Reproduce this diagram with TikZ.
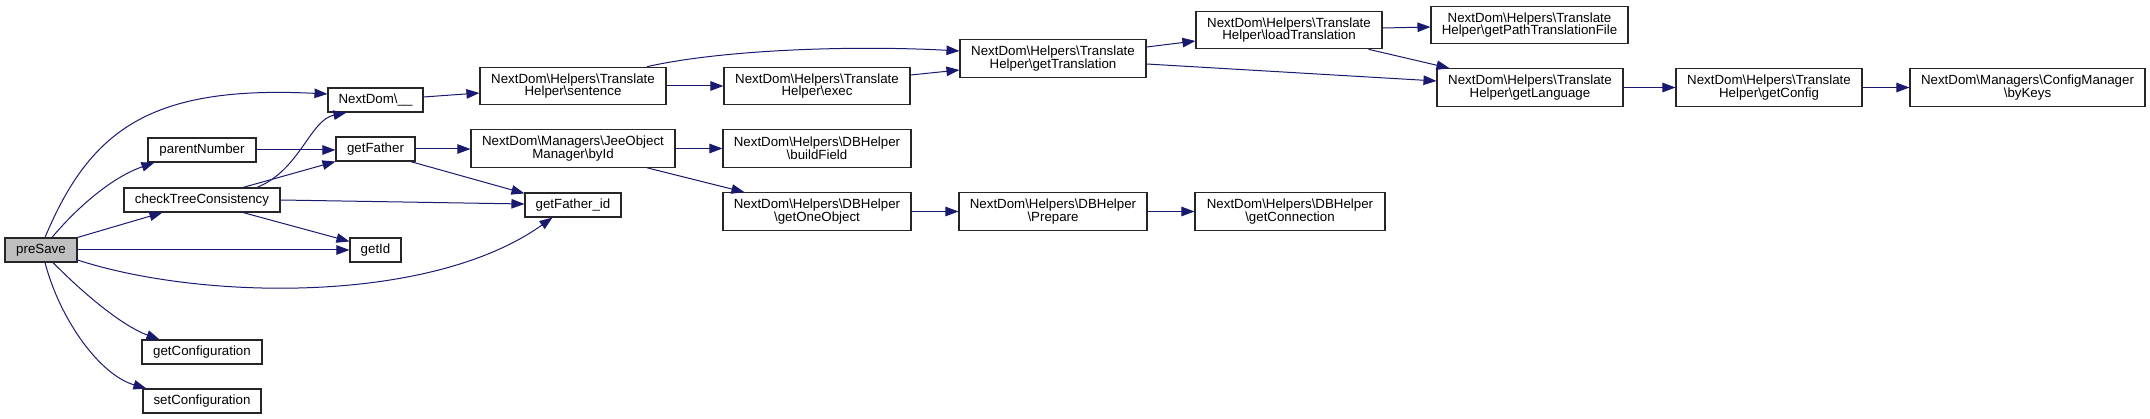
\documentclass[tikz,border=0pt]{standalone}
\usepackage{fontspec}
\setmainfont{Liberation Sans}
\usetikzlibrary{arrows.meta,calc}
\definecolor{midnightblue}{RGB}{25,25,112}
\definecolor{rootgray}{RGB}{191,191,191}
\newcommand{\bs}{\textbackslash}
\begin{document}
\begin{tikzpicture}[x=1pt,y=-1pt,
  fn/.style={draw=black!85, line width=1.1pt, fill=white, inner sep=0pt, align=center,
    font=\fontsize{13.3}{12.7}\selectfont},
  one/.style={fn, minimum height=24pt},
  two/.style={fn, minimum height=37.5pt},
  root/.style={one, fill=rootgray},
  call/.style={draw=midnightblue, line width=1pt, -{Triangle[length=13pt,width=9.5pt,fill=midnightblue]}}]
\useasboundingbox (0,0) rectangle (2150,419);
% nodes
\node[root, minimum width=72pt] (preSave) at (41,250) {preSave};
\node[one, minimum width=95pt] (nd) at (375.5,100) {NextDom\bs\_\_};
\node[one, minimum width=108pt] (parentNumber) at (202,150) {parentNumber};
\node[one, minimum width=79pt] (getFather) at (375.5,149) {getFather};
\node[one, minimum width=156pt] (check) at (202,200) {checkTreeConsistency};
\node[one, minimum width=51pt] (getId) at (375.5,250) {getId};
\node[one, minimum width=120pt] (getConfiguration) at (202,352) {getConfiguration};
\node[one, minimum width=118pt] (setConfiguration) at (202,401) {setConfiguration};
\node[one, minimum width=96pt] (getFatherId) at (573,205) {getFather\_id};
\node[two, minimum width=186pt] (sentence) at (573,86) {NextDom\bs Helpers\bs Translate\\Helper\bs sentence};
\node[two, minimum width=204pt] (byId) at (573,148.5) {NextDom\bs Managers\bs JeeObject\\Manager\bs byId};
\node[two, minimum width=186pt] (exec) at (817,86) {NextDom\bs Helpers\bs Translate\\Helper\bs exec};
\node[two, minimum width=188pt] (buildField) at (817,148.5) {NextDom\bs Helpers\bs DBHelper\\\bs buildField};
\node[two, minimum width=188pt] (getOneObject) at (817,211.5) {NextDom\bs Helpers\bs DBHelper\\\bs getOneObject};
\node[two, minimum width=186pt] (getTranslation) at (1053,58.5) {NextDom\bs Helpers\bs Translate\\Helper\bs getTranslation};
\node[two, minimum width=188pt] (prepare) at (1053,211.5) {NextDom\bs Helpers\bs DBHelper\\\bs Prepare};
\node[two, minimum width=186pt] (loadTranslation) at (1289,30) {NextDom\bs Helpers\bs Translate\\Helper\bs loadTranslation};
\node[two, minimum width=190pt] (getConnection) at (1290,211.5) {NextDom\bs Helpers\bs DBHelper\\\bs getConnection};
\node[two, minimum width=197pt] (getPath) at (1529.5,25) {NextDom\bs Helpers\bs Translate\\Helper\bs getPathTranslationFile};
\node[two, minimum width=186pt] (getLanguage) at (1530,87.5) {NextDom\bs Helpers\bs Translate\\Helper\bs getLanguage};
\node[two, minimum width=186pt] (getConfig) at (1769,87.5) {NextDom\bs Helpers\bs Translate\\Helper\bs getConfig};
\node[two, minimum width=235pt] (byKeys) at (2027.5,87.5) {NextDom\bs Managers\bs ConfigManager\\\bs byKeys};
% edges from preSave
\draw[call] ($(preSave.north)+(4,0)$) .. controls (90,130) and (150,85) .. ($(nd.west)+(0,-6)$);
\draw[call] ($(preSave.north)+(11,0)$) .. controls (75,210) and (110,178) .. ($(parentNumber.south west)+(7,0)$);
\draw[call] (preSave.north east) -- ($(check.south west)+(39,0)$);
\draw[call] (preSave.east) -- (preSave.east -| getId.west);
\draw[call] ($(preSave.east)+(0,10)$) .. controls (200,300) and (430,305) .. ($(getFatherId.south west)+(28,0)$);
\draw[call] ($(preSave.south)+(12,0)$) .. controls (80,290) and (120,325) .. ($(getConfiguration.north west)+(18,0)$);
\draw[call] ($(preSave.south)+(4,0)$) .. controls (60,320) and (100,375) .. ($(setConfiguration.north west)+(4,0)$);
% second column
\draw[call] (parentNumber.east) -- (parentNumber.east -| getFather.west);
\draw[call] ($(check.north)+(41,0)$) -- (getFather.south west);
\draw[call] ($(check.north)+(55,0)$) .. controls (300,170) and (310,120) .. ($(nd.south west)+(19,0)$);
\draw[call] (check.east) -- ($(getFatherId.west)+(0,-1)$);
\draw[call] ($(check.south)+(41,0)$) -- ($(getId.north west)+(0,4)$);
\draw[call] (getFather.east) -- (getFather.east -| byId.west);
\draw[call] ($(getFather.south east)+(-5,0)$) -- ($(getFatherId.north west)+(0,1)$);
\draw[call] ($(nd.east)+(0,-3)$) -- ($(sentence.west)+(0,7)$);
% translate helpers
\draw[call] (sentence.east) -- (sentence.east -| exec.west);
\draw[call] ($(sentence.north)+(74,0)$) .. controls (720,50) and (850,45) .. ($(getTranslation.west)+(0,-7.5)$);
\draw[call] ($(exec.east)+(0,-11)$) -- ($(getTranslation.west)+(0,11.5)$);
\draw[call] ($(getTranslation.east)+(0,-11.5)$) -- ($(loadTranslation.west)+(0,11)$);
\draw[call] ($(getTranslation.east)+(0,5.5)$) -- ($(getLanguage.west)+(0,-6.5)$);
\draw[call] ($(loadTranslation.east)+(0,-2)$) -- ($(getPath.west)+(0,2)$);
\draw[call] ($(loadTranslation.south east)+(-14,0)$) -- ($(getLanguage.north west)+(13,0)$);
\draw[call] (getLanguage.east) -- (getLanguage.east -| getConfig.west);
\draw[call] (getConfig.east) -- (getConfig.east -| byKeys.west);
% DB helpers
\draw[call] (byId.east) -- (byId.east -| buildField.west);
\draw[call] ($(byId.south)+(74,0)$) -- ($(getOneObject.north west)+(22,0)$);
\draw[call] (getOneObject.east) -- (getOneObject.east -| prepare.west);
\draw[call] (prepare.east) -- (prepare.east -| getConnection.west);
\end{tikzpicture}
\end{document}
